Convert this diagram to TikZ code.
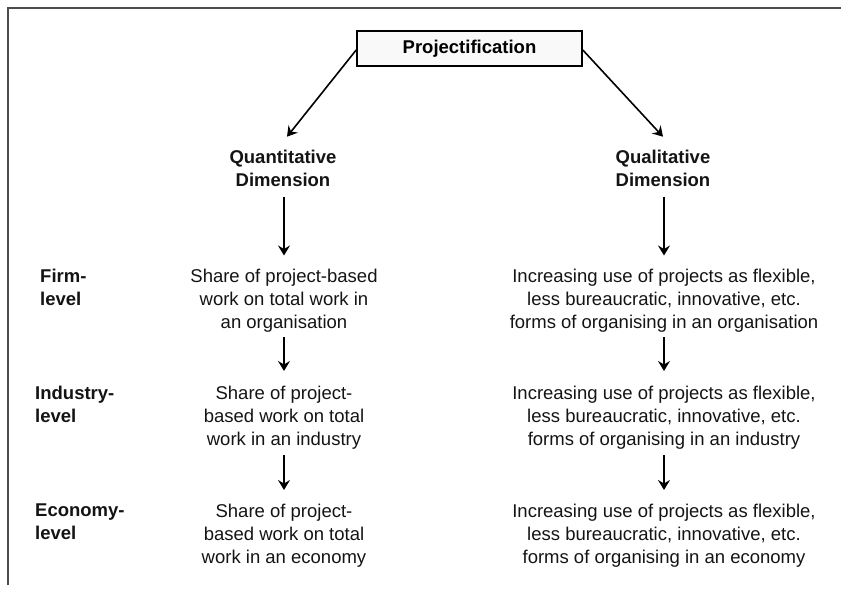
\documentclass[tikz,border=0pt]{standalone}
\usepackage{fontspec}
\setmainfont{Liberation Sans}
\usetikzlibrary{arrows.meta}
\begin{document}
\begin{tikzpicture}[x=1pt,y=-1pt,
  body/.style={font=\fontsize{18.5}{23}\selectfont, align=center, inner sep=0pt, anchor=north, text=black!92},
  levellabel/.style={font=\bfseries\fontsize{18.5}{23}\selectfont, align=left, inner sep=0pt, anchor=north west, text=black!92},
  dimension/.style={font=\bfseries\fontsize{18.5}{23}\selectfont, align=center, inner sep=0pt, anchor=north, text=black!92},
  arr/.style={line width=1.6pt, -{Stealth[length=10pt,width=12pt,inset=3.5pt]}},
]
\useasboundingbox (0,0) rectangle (841,591);
% outer frame (left and top edges)
\draw[line width=1.5pt, black!70] (8,585) -- (8,8) -- (842,8);

% title
\node[draw, line width=1.6pt, fill=gray!5, minimum width=225pt, minimum height=35pt,
      inner sep=0pt, font=\bfseries\fontsize{18.5}{23}\selectfont] (title) at (469.5,48.5) {Projectification};

% dimensions
\node[dimension] (quant) at (283,149.7) {Quantitative\\Dimension};
\node[dimension] (qual) at (663,149.7) {Qualitative\\Dimension};

% level labels
\node[levellabel] (firm) at (40,268.7) {Firm-\\level};
\node[levellabel] (industry) at (35,385.7) {Industry-\\level};
\node[levellabel] (economy) at (35,503.7) {Economy-\\level};

% quantitative column
\node[body] (firmL) at (284,268.5) {Share of project-based\\work on total work in\\an organisation};
\node[body] (indL) at (284,385.5) {Share of project-\\based work on total\\work in an industry};
\node[body] (ecoL) at (284,503.5) {Share of project-\\based work on total\\work in an economy};

% qualitative column
\node[body] (firmR) at (664,268.5) {Increasing use of projects as flexible,\\less bureaucratic, innovative, etc.\\forms of organising in an organisation};
\node[body] (indR) at (664,385.5) {Increasing use of projects as flexible,\\less bureaucratic, innovative, etc.\\forms of organising in an industry};
\node[body] (ecoR) at (664,503.5) {Increasing use of projects as flexible,\\less bureaucratic, innovative, etc.\\forms of organising in an economy};

% connectors
\draw[arr] ([yshift=-1.5pt]title.west) -- ([xshift=4pt,yshift=13pt]quant.north);
\draw[arr] ([yshift=-1.5pt]title.east) -- ([yshift=13pt]qual.north);

\draw[arr] ([yshift=-10pt]firmL.north |- quant.south) -- ([yshift=13pt]firmL.north);
\draw[arr] ([yshift=-5pt]firmL.south) -- ([yshift=14.5pt]indL.north);
\draw[arr] ([yshift=-6pt]indL.south) -- ([yshift=13.5pt]ecoL.north);

\draw[arr] ([yshift=-10pt]firmR.north |- qual.south) -- ([yshift=13pt]firmR.north);
\draw[arr] ([yshift=-5pt]firmR.south) -- ([yshift=14.5pt]indR.north);
\draw[arr] ([yshift=-6pt]indR.south) -- ([yshift=13.5pt]ecoR.north);
\end{tikzpicture}
\end{document}
